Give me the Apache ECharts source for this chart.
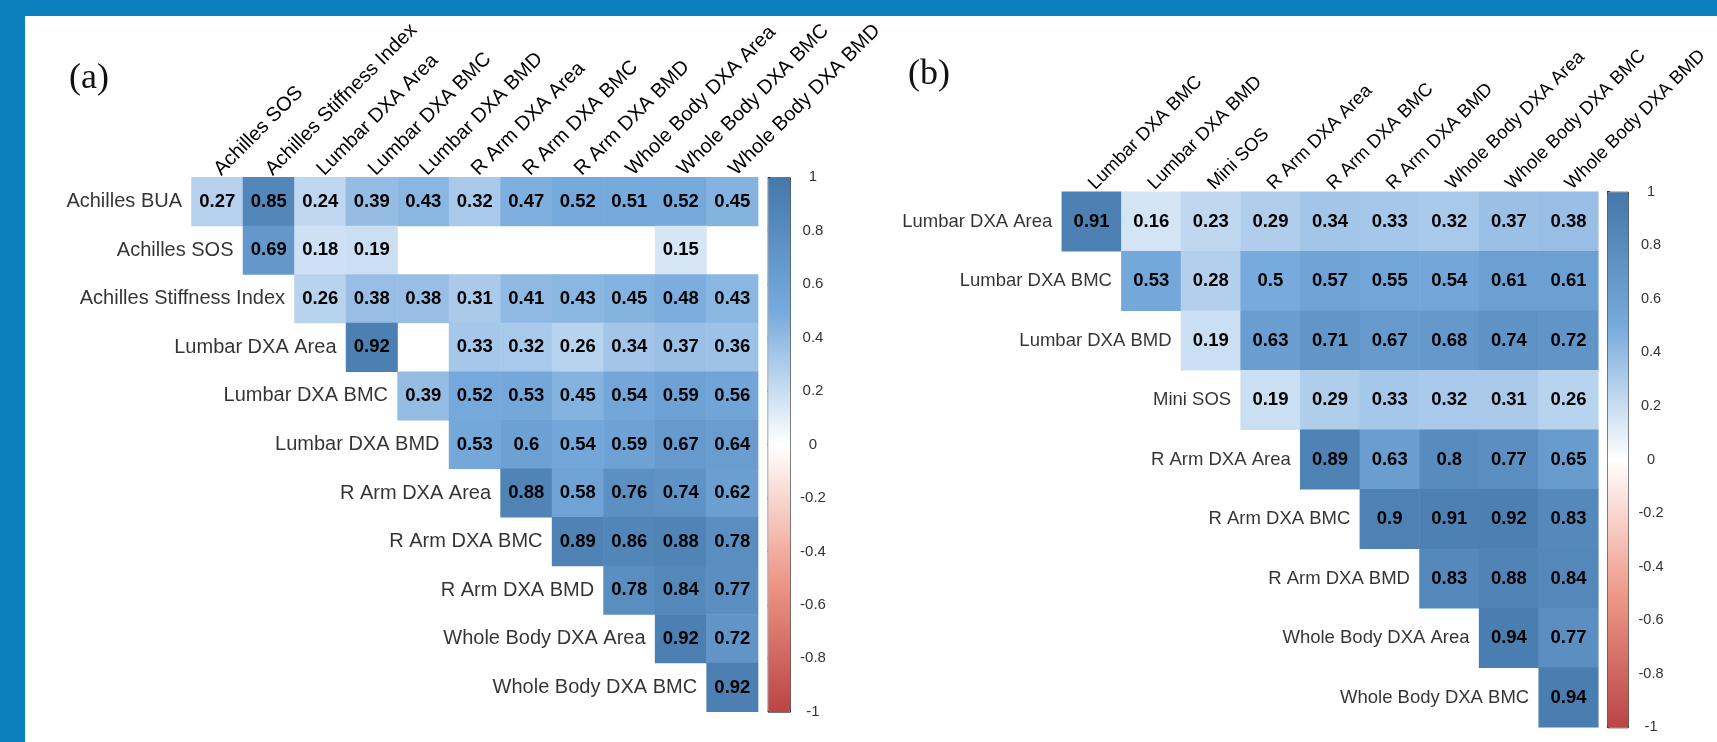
<!DOCTYPE html>
<html>
<head>
<meta charset="utf-8">
<script src="https://cdn.jsdelivr.net/npm/echarts@6/dist/echarts.min.js"></script>
<style>
  html, body { margin: 0; padding: 0; background: #fff; }
  #frame { position: absolute; left: 0; top: 0; width: 1717px; height: 742px;
           border-top: 16px solid #0b7fbe; border-left: 25px solid #0b7fbe; box-sizing: border-box; }
  #chart { position: absolute; left: 0; top: 0; width: 1717px; height: 742px; }
</style>
</head>
<body>
<div id="frame"></div>
<div id="chart"></div>
<script>
// (a) Achilles / DXA correlations
const colsA = ["Achilles SOS", "Achilles Stiffness Index", "Lumbar DXA Area", "Lumbar DXA BMC",
  "Lumbar DXA BMD", "R Arm DXA Area", "R Arm DXA BMC", "R Arm DXA BMD",
  "Whole Body DXA Area", "Whole Body DXA BMC", "Whole Body DXA BMD"]
const rowsA = ["Achilles BUA", "Achilles SOS", "Achilles Stiffness Index", "Lumbar DXA Area",
  "Lumbar DXA BMC", "Lumbar DXA BMD", "R Arm DXA Area", "R Arm DXA BMC", "R Arm DXA BMD",
  "Whole Body DXA Area", "Whole Body DXA BMC"]
// row i starts at column i, null = not significant (left blank)
const corrA = [
  [0.27, 0.85, 0.24, 0.39, 0.43, 0.32, 0.47, 0.52, 0.51, 0.52, 0.45],
  [0.69, 0.18, 0.19, null, null, null, null, null, 0.15, null],
  [0.26, 0.38, 0.38, 0.31, 0.41, 0.43, 0.45, 0.48, 0.43],
  [0.92, null, 0.33, 0.32, 0.26, 0.34, 0.37, 0.36],
  [0.39, 0.52, 0.53, 0.45, 0.54, 0.59, 0.56],
  [0.53, 0.6, 0.54, 0.59, 0.67, 0.64],
  [0.88, 0.58, 0.76, 0.74, 0.62],
  [0.89, 0.86, 0.88, 0.78],
  [0.78, 0.84, 0.77],
  [0.92, 0.72],
  [0.92],
]

// (b) Mini SOS / DXA correlations
const colsB = ["Lumbar DXA BMC", "Lumbar DXA BMD", "Mini SOS", "R Arm DXA Area", "R Arm DXA BMC",
  "R Arm DXA BMD", "Whole Body DXA Area", "Whole Body DXA BMC", "Whole Body DXA BMD"]
const rowsB = ["Lumbar DXA Area", "Lumbar DXA BMC", "Lumbar DXA BMD", "Mini SOS", "R Arm DXA Area",
  "R Arm DXA BMC", "R Arm DXA BMD", "Whole Body DXA Area", "Whole Body DXA BMC"]
const corrB = [
  [0.91, 0.16, 0.23, 0.29, 0.34, 0.33, 0.32, 0.37, 0.38],
  [0.53, 0.28, 0.5, 0.57, 0.55, 0.54, 0.61, 0.61],
  [0.19, 0.63, 0.71, 0.67, 0.68, 0.74, 0.72],
  [0.19, 0.29, 0.33, 0.32, 0.31, 0.26],
  [0.89, 0.63, 0.8, 0.77, 0.65],
  [0.9, 0.91, 0.92, 0.83],
  [0.83, 0.88, 0.84],
  [0.94, 0.77],
  [0.94],
]

const palette = ["#BB4444", "#EE9988", "#FFFFFF", "#77AADD", "#4477AA"]
const sans = "Liberation Sans, Arial, sans-serif"

function cells(corr) {
  const out = []
  corr.forEach((row, i) => {
    row.forEach((v, k) => {
      if (v !== null) out.push([i + k, i, v])
    })
  })
  return out
}

function diag(rows) {
  return rows.map((_, i) => [i, i])
}

const chart = echarts.init(document.getElementById("chart"), null, { renderer: "canvas" })

const boxA = { left: 191.5, top: 177.3, width: 566.6, height: 534.4 }
const boxB = { left: 1061.8, top: 191.7, width: 536.5, height: 535.6 }
const cbarA = { left: 767.7, top: 177.3, width: 22.3, height: 534.4 }
const cbarB = { left: 1607, top: 191.7, width: 21, height: 535.6 }

const cwA = boxA.width / colsA.length
const cwB = boxB.width / colsB.length

function catX(gridIndex, names, fontSize) {
  return {
    type: "category", gridIndex, data: names, position: "top",
    axisLine: { show: false }, axisTick: { show: false }, splitLine: { show: false },
    axisLabel: {
      interval: 0, rotate: -45, align: "left", verticalAlign: "middle", margin: 5,
      fontFamily: sans, fontSize, color: "#000",
    },
  }
}

function catY(gridIndex, names) {
  return {
    type: "category", gridIndex, data: names, inverse: true, show: false,
  }
}

function barAxis(gridIndex, fontSize) {
  return {
    type: "value", gridIndex, position: "right", min: -1, max: 1, interval: 0.2,
    axisLine: { show: false }, splitLine: { show: false },
    axisTick: { show: true, length: 3, lineStyle: { color: "#333" } },
    axisLabel: { align: "center", margin: 23, fontFamily: sans, fontSize, color: "#333" },
  }
}

function cbarMap(seriesIndex, box) {
  return {
    type: "continuous", seriesIndex, min: -1, max: 1, calculable: false, hoverLink: false,
    orient: "vertical", left: box.left, top: box.top, itemWidth: box.width, itemHeight: box.height,
    padding: 0, borderWidth: 1, borderColor: "#333",
    inRange: { color: palette },
  }
}

function heat(xAxisIndex, yAxisIndex, data, fontSize) {
  return {
    type: "heatmap", xAxisIndex, yAxisIndex, data,
    label: {
      show: true, fontFamily: sans, fontSize, fontWeight: "bold", color: "#000",
      formatter: (p) => String(p.value[2]),
    },
    emphasis: { disabled: true },
  }
}

function rowLabels(xAxisIndex, yAxisIndex, names, cw, fontSize) {
  return {
    type: "scatter", xAxisIndex, yAxisIndex, data: diag(names),
    symbolSize: 1, itemStyle: { color: "rgba(0,0,0,0)" }, silent: true,
    label: {
      show: true, position: "left", distance: cw / 2 + 9,
      fontFamily: sans, fontSize, color: "#000",
      formatter: (p) => names[p.value[1]],
    },
    emphasis: { disabled: true },
  }
}

const option = {
  animation: false,
  backgroundColor: "transparent",
  title: [
    { text: "(a)", left: 64, top: 56, textStyle: { fontFamily: "Liberation Serif, serif", fontSize: 36, fontWeight: "normal", color: "#111" } },
    { text: "(b)", left: 903, top: 52, textStyle: { fontFamily: "Liberation Serif, serif", fontSize: 36, fontWeight: "normal", color: "#111" } },
  ],
  grid: [
    { ...boxA, outerBoundsMode: "none" },
    { ...boxB, outerBoundsMode: "none" },
    { ...cbarA, outerBoundsMode: "none" },
    { ...cbarB, outerBoundsMode: "none" },
  ],
  xAxis: [
    catX(0, colsA, 20),
    catX(1, colsB, 18.5),
    { type: "value", gridIndex: 2, show: false, min: 0, max: 1 },
    { type: "value", gridIndex: 3, show: false, min: 0, max: 1 },
  ],
  yAxis: [
    catY(0, rowsA),
    catY(1, rowsB),
    barAxis(2, 15),
    barAxis(3, 14.5),
  ],
  visualMap: [cbarMap(0, cbarA), cbarMap(2, cbarB)],
  series: [
    heat(0, 0, cells(corrA), 18.5),
    rowLabels(0, 0, rowsA, cwA, 20),
    heat(1, 1, cells(corrB), 18.5),
    rowLabels(1, 1, rowsB, cwB, 18.5),
  ],
}

chart.setOption(option)

window.addEventListener("resize", () => chart.resize())
</script>
</body>
</html>
